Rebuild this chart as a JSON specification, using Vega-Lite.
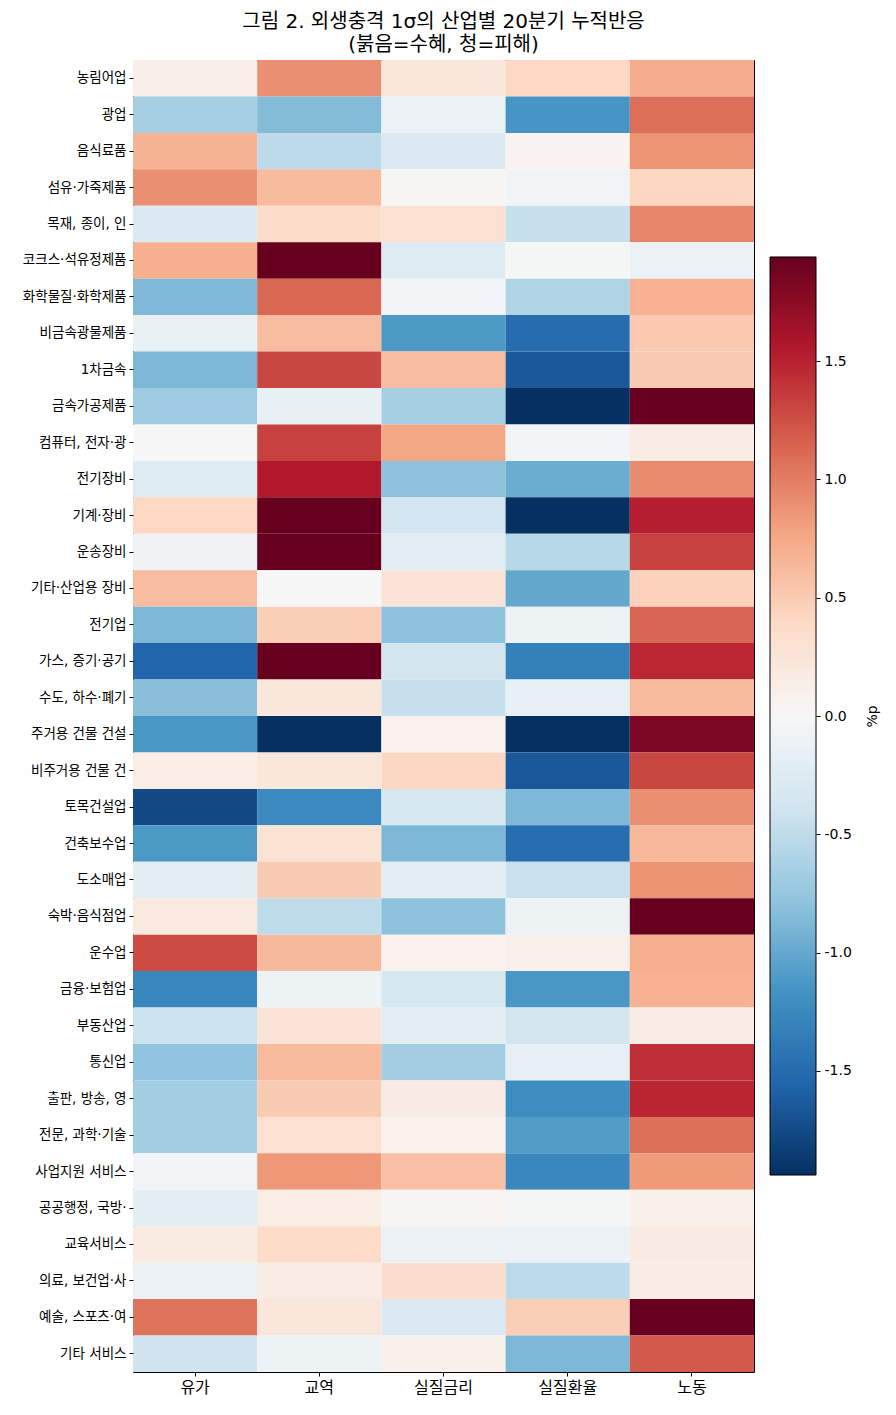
{
  "$schema": "https://vega.github.io/schema/vega-lite/v6.json",
  "background": "white",
  "padding": {"left": 21, "top": 11, "right": 5, "bottom": 5},
  "spacing": 14,
  "config": {
    "font": "Noto Sans CJK KR",
    "view": {"stroke": "black", "strokeWidth": 1},
    "axis": {"labelColor": "black", "tickColor": "black", "domainColor": "black", "labelFont": "'DejaVu Sans', 'Noto Sans CJK KR'", "titleFont": "'DejaVu Sans', 'Noto Sans CJK KR'", "grid": false}
  },
  "hconcat": [
    {
      "width": 621,
      "height": 1312,
      "title": {"text": ["그림 2. 외생충격 1σ의 산업별 20분기 누적반응", "(붉음=수혜, 청=피해)"], "fontSize": 20, "fontWeight": "normal", "color": "black", "lineHeight": 23, "offset": 5, "font": "'DejaVu Sans', 'Noto Sans CJK KR'"},
      "data": {"values": [
        {"s": "농림어업", "f": "유가", "v": 0.12}, {"s": "농림어업", "f": "교역", "v": 0.9}, {"s": "농림어업", "f": "실질금리", "v": 0.22}, {"s": "농림어업", "f": "실질환율", "v": 0.4}, {"s": "농림어업", "f": "노동", "v": 0.72},
        {"s": "광업", "f": "유가", "v": -0.65}, {"s": "광업", "f": "교역", "v": -0.85}, {"s": "광업", "f": "실질금리", "v": -0.12}, {"s": "광업", "f": "실질환율", "v": -1.15}, {"s": "광업", "f": "노동", "v": 1.08},
        {"s": "음식료품", "f": "유가", "v": 0.67}, {"s": "음식료품", "f": "교역", "v": -0.52}, {"s": "음식료품", "f": "실질금리", "v": -0.3}, {"s": "음식료품", "f": "실질환율", "v": 0.05}, {"s": "음식료품", "f": "노동", "v": 0.87},
        {"s": "섬유·가죽제품", "f": "유가", "v": 0.9}, {"s": "섬유·가죽제품", "f": "교역", "v": 0.62}, {"s": "섬유·가죽제품", "f": "실질금리", "v": 0.03}, {"s": "섬유·가죽제품", "f": "실질환율", "v": -0.06}, {"s": "섬유·가죽제품", "f": "노동", "v": 0.42},
        {"s": "목재, 종이, 인", "f": "유가", "v": -0.3}, {"s": "목재, 종이, 인", "f": "교역", "v": 0.37}, {"s": "목재, 종이, 인", "f": "실질금리", "v": 0.3}, {"s": "목재, 종이, 인", "f": "실질환율", "v": -0.45}, {"s": "목재, 종이, 인", "f": "노동", "v": 0.95},
        {"s": "코크스·석유정제품", "f": "유가", "v": 0.7}, {"s": "코크스·석유정제품", "f": "교역", "v": 2.2}, {"s": "코크스·석유정제품", "f": "실질금리", "v": -0.25}, {"s": "코크스·석유정제품", "f": "실질환율", "v": -0.03}, {"s": "코크스·석유정제품", "f": "노동", "v": -0.12},
        {"s": "화학물질·화학제품", "f": "유가", "v": -0.87}, {"s": "화학물질·화학제품", "f": "교역", "v": 1.12}, {"s": "화학물질·화학제품", "f": "실질금리", "v": -0.06}, {"s": "화학물질·화학제품", "f": "실질환율", "v": -0.6}, {"s": "화학물질·화학제품", "f": "노동", "v": 0.68},
        {"s": "비금속광물제품", "f": "유가", "v": -0.14}, {"s": "비금속광물제품", "f": "교역", "v": 0.6}, {"s": "비금속광물제품", "f": "실질금리", "v": -1.12}, {"s": "비금속광물제품", "f": "실질환율", "v": -1.5}, {"s": "비금속광물제품", "f": "노동", "v": 0.52},
        {"s": "1차금속", "f": "유가", "v": -0.88}, {"s": "1차금속", "f": "교역", "v": 1.3}, {"s": "1차금속", "f": "실질금리", "v": 0.6}, {"s": "1차금속", "f": "실질환율", "v": -1.65}, {"s": "1차금속", "f": "노동", "v": 0.5},
        {"s": "금속가공제품", "f": "유가", "v": -0.7}, {"s": "금속가공제품", "f": "교역", "v": -0.15}, {"s": "금속가공제품", "f": "실질금리", "v": -0.66}, {"s": "금속가공제품", "f": "실질환율", "v": -2.1}, {"s": "금속가공제품", "f": "노동", "v": 2.0},
        {"s": "컴퓨터, 전자·광", "f": "유가", "v": 0.0}, {"s": "컴퓨터, 전자·광", "f": "교역", "v": 1.33}, {"s": "컴퓨터, 전자·광", "f": "실질금리", "v": 0.76}, {"s": "컴퓨터, 전자·광", "f": "실질환율", "v": -0.05}, {"s": "컴퓨터, 전자·광", "f": "노동", "v": 0.15},
        {"s": "전기장비", "f": "유가", "v": -0.25}, {"s": "전기장비", "f": "교역", "v": 1.55}, {"s": "전기장비", "f": "실질금리", "v": -0.8}, {"s": "전기장비", "f": "실질환율", "v": -0.97}, {"s": "전기장비", "f": "노동", "v": 0.92},
        {"s": "기계·장비", "f": "유가", "v": 0.4}, {"s": "기계·장비", "f": "교역", "v": 2.3}, {"s": "기계·장비", "f": "실질금리", "v": -0.38}, {"s": "기계·장비", "f": "실질환율", "v": -2.0}, {"s": "기계·장비", "f": "노동", "v": 1.52},
        {"s": "운송장비", "f": "유가", "v": -0.08}, {"s": "운송장비", "f": "교역", "v": 2.1}, {"s": "운송장비", "f": "실질금리", "v": -0.22}, {"s": "운송장비", "f": "실질환율", "v": -0.55}, {"s": "운송장비", "f": "노동", "v": 1.33},
        {"s": "기타·산업용 장비", "f": "유가", "v": 0.6}, {"s": "기타·산업용 장비", "f": "교역", "v": 0.0}, {"s": "기타·산업용 장비", "f": "실질금리", "v": 0.26}, {"s": "기타·산업용 장비", "f": "실질환율", "v": -1.0}, {"s": "기타·산업용 장비", "f": "노동", "v": 0.45},
        {"s": "전기업", "f": "유가", "v": -0.88}, {"s": "전기업", "f": "교역", "v": 0.48}, {"s": "전기업", "f": "실질금리", "v": -0.8}, {"s": "전기업", "f": "실질환율", "v": -0.1}, {"s": "전기업", "f": "노동", "v": 1.13},
        {"s": "가스, 증기·공기", "f": "유가", "v": -1.55}, {"s": "가스, 증기·공기", "f": "교역", "v": 2.05}, {"s": "가스, 증기·공기", "f": "실질금리", "v": -0.37}, {"s": "가스, 증기·공기", "f": "실질환율", "v": -1.33}, {"s": "가스, 증기·공기", "f": "노동", "v": 1.47},
        {"s": "수도, 하수·폐기", "f": "유가", "v": -0.82}, {"s": "수도, 하수·폐기", "f": "교역", "v": 0.22}, {"s": "수도, 하수·폐기", "f": "실질금리", "v": -0.46}, {"s": "수도, 하수·폐기", "f": "실질환율", "v": -0.18}, {"s": "수도, 하수·폐기", "f": "노동", "v": 0.62},
        {"s": "주거용 건물 건설", "f": "유가", "v": -1.13}, {"s": "주거용 건물 건설", "f": "교역", "v": -2.1}, {"s": "주거용 건물 건설", "f": "실질금리", "v": 0.08}, {"s": "주거용 건물 건설", "f": "실질환율", "v": -2.05}, {"s": "주거용 건물 건설", "f": "노동", "v": 1.82},
        {"s": "비주거용 건물 건", "f": "유가", "v": 0.14}, {"s": "비주거용 건물 건", "f": "교역", "v": 0.22}, {"s": "비주거용 건물 건", "f": "실질금리", "v": 0.42}, {"s": "비주거용 건물 건", "f": "실질환율", "v": -1.65}, {"s": "비주거용 건물 건", "f": "노동", "v": 1.3},
        {"s": "토목건설업", "f": "유가", "v": -1.75}, {"s": "토목건설업", "f": "교역", "v": -1.25}, {"s": "토목건설업", "f": "실질금리", "v": -0.33}, {"s": "토목건설업", "f": "실질환율", "v": -0.88}, {"s": "토목건설업", "f": "노동", "v": 0.9},
        {"s": "건축보수업", "f": "유가", "v": -1.12}, {"s": "건축보수업", "f": "교역", "v": 0.28}, {"s": "건축보수업", "f": "실질금리", "v": -0.88}, {"s": "건축보수업", "f": "실질환율", "v": -1.48}, {"s": "건축보수업", "f": "노동", "v": 0.64},
        {"s": "도소매업", "f": "유가", "v": -0.2}, {"s": "도소매업", "f": "교역", "v": 0.5}, {"s": "도소매업", "f": "실질금리", "v": -0.2}, {"s": "도소매업", "f": "실질환율", "v": -0.44}, {"s": "도소매업", "f": "노동", "v": 0.88},
        {"s": "숙박·음식점업", "f": "유가", "v": 0.2}, {"s": "숙박·음식점업", "f": "교역", "v": -0.5}, {"s": "숙박·음식점업", "f": "실질금리", "v": -0.8}, {"s": "숙박·음식점업", "f": "실질환율", "v": -0.1}, {"s": "숙박·음식점업", "f": "노동", "v": 2.1},
        {"s": "운수업", "f": "유가", "v": 1.27}, {"s": "운수업", "f": "교역", "v": 0.63}, {"s": "운수업", "f": "실질금리", "v": 0.08}, {"s": "운수업", "f": "실질환율", "v": 0.1}, {"s": "운수업", "f": "노동", "v": 0.7},
        {"s": "금융·보험업", "f": "유가", "v": -1.27}, {"s": "금융·보험업", "f": "교역", "v": -0.1}, {"s": "금융·보험업", "f": "실질금리", "v": -0.33}, {"s": "금융·보험업", "f": "실질환율", "v": -1.13}, {"s": "금융·보험업", "f": "노동", "v": 0.68},
        {"s": "부동산업", "f": "유가", "v": -0.42}, {"s": "부동산업", "f": "교역", "v": 0.26}, {"s": "부동산업", "f": "실질금리", "v": -0.2}, {"s": "부동산업", "f": "실질환율", "v": -0.37}, {"s": "부동산업", "f": "노동", "v": 0.15},
        {"s": "통신업", "f": "유가", "v": -0.78}, {"s": "통신업", "f": "교역", "v": 0.62}, {"s": "통신업", "f": "실질금리", "v": -0.68}, {"s": "통신업", "f": "실질환율", "v": -0.18}, {"s": "통신업", "f": "노동", "v": 1.42},
        {"s": "출판, 방송, 영", "f": "유가", "v": -0.68}, {"s": "출판, 방송, 영", "f": "교역", "v": 0.5}, {"s": "출판, 방송, 영", "f": "실질금리", "v": 0.16}, {"s": "출판, 방송, 영", "f": "실질환율", "v": -1.22}, {"s": "출판, 방송, 영", "f": "노동", "v": 1.48},
        {"s": "전문, 과학·기술", "f": "유가", "v": -0.68}, {"s": "전문, 과학·기술", "f": "교역", "v": 0.3}, {"s": "전문, 과학·기술", "f": "실질금리", "v": 0.09}, {"s": "전문, 과학·기술", "f": "실질환율", "v": -1.1}, {"s": "전문, 과학·기술", "f": "노동", "v": 1.08},
        {"s": "사업지원 서비스", "f": "유가", "v": -0.07}, {"s": "사업지원 서비스", "f": "교역", "v": 0.85}, {"s": "사업지원 서비스", "f": "실질금리", "v": 0.58}, {"s": "사업지원 서비스", "f": "실질환율", "v": -1.27}, {"s": "사업지원 서비스", "f": "노동", "v": 0.84},
        {"s": "공공행정, 국방·", "f": "유가", "v": -0.2}, {"s": "공공행정, 국방·", "f": "교역", "v": 0.14}, {"s": "공공행정, 국방·", "f": "실질금리", "v": 0.04}, {"s": "공공행정, 국방·", "f": "실질환율", "v": -0.03}, {"s": "공공행정, 국방·", "f": "노동", "v": 0.1},
        {"s": "교육서비스", "f": "유가", "v": 0.17}, {"s": "교육서비스", "f": "교역", "v": 0.36}, {"s": "교육서비스", "f": "실질금리", "v": -0.12}, {"s": "교육서비스", "f": "실질환율", "v": -0.12}, {"s": "교육서비스", "f": "노동", "v": 0.16},
        {"s": "의료, 보건업·사", "f": "유가", "v": -0.12}, {"s": "의료, 보건업·사", "f": "교역", "v": 0.15}, {"s": "의료, 보건업·사", "f": "실질금리", "v": 0.35}, {"s": "의료, 보건업·사", "f": "실질환율", "v": -0.52}, {"s": "의료, 보건업·사", "f": "노동", "v": 0.15},
        {"s": "예술, 스포츠·여", "f": "유가", "v": 1.05}, {"s": "예술, 스포츠·여", "f": "교역", "v": 0.22}, {"s": "예술, 스포츠·여", "f": "실질금리", "v": -0.3}, {"s": "예술, 스포츠·여", "f": "실질환율", "v": 0.48}, {"s": "예술, 스포츠·여", "f": "노동", "v": 2.2},
        {"s": "기타 서비스", "f": "유가", "v": -0.4}, {"s": "기타 서비스", "f": "교역", "v": -0.1}, {"s": "기타 서비스", "f": "실질금리", "v": 0.1}, {"s": "기타 서비스", "f": "실질환율", "v": -0.88}, {"s": "기타 서비스", "f": "노동", "v": 1.2}
      ]},
      "mark": {"type": "rect"},
      "encoding": {
        "x": {"field": "f", "type": "nominal", "sort": ["유가", "교역", "실질금리", "실질환율", "노동"],
              "scale": {"paddingInner": 0, "paddingOuter": 0},
              "axis": {"title": null, "labelAngle": 0, "labelFontSize": 16, "tickSize": 4, "domain": false, "labelPadding": 3}},
        "y": {"field": "s", "type": "nominal",
              "sort": ["농림어업", "광업", "음식료품", "섬유·가죽제품", "목재, 종이, 인", "코크스·석유정제품", "화학물질·화학제품", "비금속광물제품", "1차금속", "금속가공제품", "컴퓨터, 전자·광", "전기장비", "기계·장비", "운송장비", "기타·산업용 장비", "전기업", "가스, 증기·공기", "수도, 하수·폐기", "주거용 건물 건설", "비주거용 건물 건", "토목건설업", "건축보수업", "도소매업", "숙박·음식점업", "운수업", "금융·보험업", "부동산업", "통신업", "출판, 방송, 영", "전문, 과학·기술", "사업지원 서비스", "공공행정, 국방·", "교육서비스", "의료, 보건업·사", "예술, 스포츠·여", "기타 서비스"],
              "scale": {"paddingInner": 0, "paddingOuter": 0},
              "axis": {"title": null, "labelFontSize": 13.5, "tickSize": 4, "domain": false, "labelPadding": 3}},
        "color": {"field": "v", "type": "quantitative",
                  "scale": {"type": "linear", "domain": [-1.94, -1.552, -1.164, -0.776, -0.388, 0, 0.388, 0.776, 1.164, 1.552, 1.94],
                            "range": ["#053061", "#2166ac", "#4393c3", "#92c5de", "#d1e5f0", "#f7f7f7", "#fddbc7", "#f4a582", "#d6604d", "#b2182b", "#67001f"],
                            "interpolate": "rgb", "clamp": true},
                  "legend": null}
      }
    },
    {
      "width": 46,
      "height": 1312,
      "view": {"stroke": null},
      "data": {"values": [{"lo": -1.94, "hi": 1.94}]},
      "mark": {"type": "rect", "stroke": "black", "strokeWidth": 1,
               "color": {"gradient": "linear", "x1": 0, "y1": 1, "x2": 0, "y2": 0,
                         "stops": [
                           {"offset": 0, "color": "#053061"}, {"offset": 0.1, "color": "#2166ac"}, {"offset": 0.2, "color": "#4393c3"}, {"offset": 0.3, "color": "#92c5de"}, {"offset": 0.4, "color": "#d1e5f0"}, {"offset": 0.5, "color": "#f7f7f7"}, {"offset": 0.6, "color": "#fddbc7"}, {"offset": 0.7, "color": "#f4a582"}, {"offset": 0.8, "color": "#d6604d"}, {"offset": 0.9, "color": "#b2182b"}, {"offset": 1, "color": "#67001f"}]}},
      "encoding": {
        "y": {"field": "lo", "type": "quantitative",
              "scale": {"domain": [-2.7725, 2.7725], "nice": false, "zero": false},
              "axis": {"orient": "right", "values": [-1.5, -1.0, -0.5, 0.0, 0.5, 1.0, 1.5], "labelExpr": "replace(format(datum.value, '.1f'), '−', '-')", "domain": false, "grid": false,
                       "tickSize": 4, "labelFontSize": 14, "labelPadding": 4, "title": "%p", "titleAngle": 270, "titleFontSize": 14, "titleFontWeight": "normal", "titlePadding": 28, "titleColor": "black"}},
        "y2": {"field": "hi"}
      }
    }
  ]
}
